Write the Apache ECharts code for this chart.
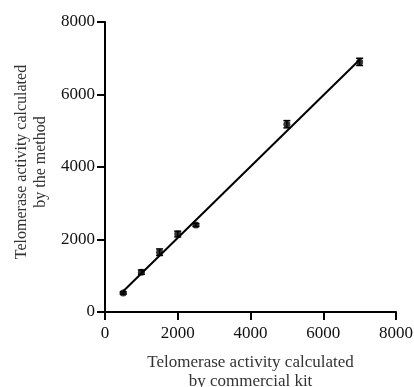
<!DOCTYPE html>
<html lang="en">
<head>
  <meta charset="UTF-8">
  <title>Telomerase activity</title>
  <style>
    html, body { margin: 0; padding: 0; background: #fff; }
  </style>
</head>
<body>
  <div id="main" style="width:414px;height:387px"></div>
  <script src="https://cdn.jsdelivr.net/npm/echarts@6/dist/echarts.min.js"></script>
  <script>
    // data
    var kitValues = [500, 1000, 1500, 2000, 2500, 5000, 7000];
    var methodValues = [525, 1100, 1650, 2150, 2400, 5180, 6900];
    var errValues = [30, 60, 90, 80, 40, 100, 100];
    // fitted line end points
    var fitX = [500, 7000];
    var fitY = [570, 6960];
    var tickLabels = ['0', '2000', '4000', '6000', '8000'];

    var font = '"Liberation Serif", "Times New Roman", serif';

    var points = kitValues.map(function (x, i) { return [x, methodValues[i]]; });
    var errData = kitValues.map(function (x, i) {
      return [x, methodValues[i] - errValues[i], methodValues[i] + errValues[i]];
    });
    var fitData = fitX.map(function (x, i) { return [x, fitY[i]]; });

    var myChart = echarts.init(document.getElementById('main'));

    var axisCommon = {
      type: 'value',
      min: 0,
      max: 8000,
      interval: 2000,
      splitLine: { show: false },
      axisLine: { show: true, onZero: false, lineStyle: { color: '#000', width: 2 } },
      axisTick: { show: true, length: 8, lineStyle: { color: '#000', width: 2 } },
      nameLocation: 'middle'
    };

    var option = {
      animation: false,
      grid: { left: 105, right: 18, top: 22, bottom: 75, containLabel: false, outerBoundsMode: 'none' },
      xAxis: Object.assign({}, axisCommon, {
        name: 'Telomerase activity calculated\nby commercial kit',
        nameGap: 41,
        nameTextStyle: { color: '#333', fontFamily: font, fontSize: 17, lineHeight: 19 },
        axisLabel: {
          color: '#111', fontFamily: font, fontSize: 17, margin: 13,
          formatter: function (v) { return tickLabels[v / 2000]; }
        }
      }),
      yAxis: Object.assign({}, axisCommon, {
        name: 'Telomerase activity calculated\nby the method',
        nameGap: 48,
        nameTextStyle: { color: '#333', fontFamily: font, fontSize: 16, lineHeight: 19, padding: [0, 0, 0, 10] },
        axisLabel: {
          color: '#111', fontFamily: font, fontSize: 17, margin: 10,
          formatter: function (v) { return tickLabels[v / 2000]; }
        }
      }),
      series: [
        {
          type: 'line',
          data: fitData,
          showSymbol: false,
          lineStyle: { color: '#000', width: 2 },
          z: 2
        },
        {
          type: 'custom',
          data: errData,
          z: 3,
          renderItem: function (params, api) {
            var x = api.value(0);
            var lo = api.coord([x, api.value(1)]);
            var hi = api.coord([x, api.value(2)]);
            var w = 3.5;
            var style = { stroke: '#000', lineWidth: 1.5 };
            return {
              type: 'group',
              children: [
                { type: 'line', shape: { x1: lo[0], y1: lo[1], x2: hi[0], y2: hi[1] }, style: style },
                { type: 'line', shape: { x1: lo[0] - w, y1: lo[1], x2: lo[0] + w, y2: lo[1] }, style: style },
                { type: 'line', shape: { x1: hi[0] - w, y1: hi[1], x2: hi[0] + w, y2: hi[1] }, style: style }
              ]
            };
          }
        },
        {
          type: 'scatter',
          data: points,
          symbol: 'circle',
          symbolSize: 7,
          itemStyle: { color: '#000' },
          z: 4
        }
      ]
    };

    myChart.setOption(option);
  </script>
</body>
</html>
